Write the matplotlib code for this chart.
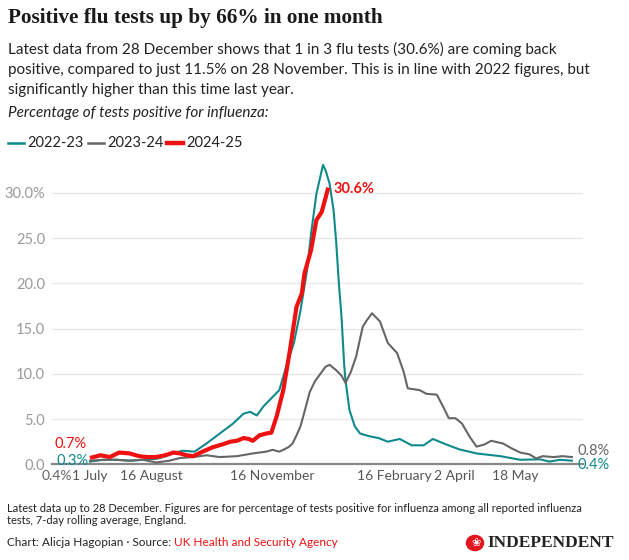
import matplotlib
matplotlib.use("Agg")
import matplotlib.pyplot as plt
from matplotlib.lines import Line2D
from matplotlib.patches import Circle

# days since 1 July for each season
days_2022 = [0, 10, 20, 30, 40, 50, 55, 62, 70, 79, 88, 98, 108, 116, 121, 126, 131, 137, 143,
             149, 154, 159, 164, 167, 171, 176, 178, 181, 184, 186, 188, 190, 192, 193, 196, 200,
             204, 211, 218, 225, 234, 243, 252, 259, 269, 279, 292, 310, 325, 340, 347, 355, 364]
flu_2022 = [0.3, 0.5, 0.5, 0.4, 0.5, 0.6, 0.8, 1.2, 1.5, 1.4, 2.3, 3.4, 4.5, 5.6, 5.8, 5.4, 6.4, 7.3, 8.2,
            11.2, 13.4, 17.0, 21.5, 25.5, 29.9, 33.1, 32.5, 31.0, 28.1, 24.5, 20.0, 16.3, 11.0, 9.3, 6.0, 4.2,
            3.4, 3.1, 2.9, 2.5, 2.8, 2.1, 2.1, 2.8, 2.2, 1.65, 1.2, 0.9, 0.5, 0.55, 0.3, 0.5, 0.4]

days_2023 = [0, 10, 20, 30, 40, 50, 60, 68, 78, 88, 98, 111, 123, 133, 138, 143, 146, 150, 153, 156,
             159, 162, 166, 170, 174, 178, 181, 186, 190, 193, 197, 201, 206, 209, 213, 219, 225, 232,
             237, 240, 249, 254, 262, 267, 271, 276, 281, 287, 292, 298, 303, 312, 318, 325, 332, 337,
             342, 350, 357, 364]
flu_2023 = [0.4, 0.5, 0.5, 0.4, 0.5, 0.2, 0.4, 0.7, 0.8, 1.0, 0.8, 0.9, 1.2, 1.4, 1.6, 1.4, 1.6, 1.9, 2.3, 3.2,
            4.2, 5.8, 8.0, 9.2, 10.0, 10.8, 11.0, 10.4, 9.8, 9.0, 10.2, 11.9, 15.2, 15.9, 16.7, 15.8, 13.4, 12.3,
            10.2, 8.4, 8.2, 7.8, 7.7, 6.3, 5.1, 5.1, 4.5, 3.0, 1.95, 2.2, 2.6, 2.3, 1.8, 1.3, 1.1, 0.65,
            0.9, 0.8, 0.9, 0.8]

days_2024 = [0, 8, 15, 22, 30, 37, 43, 50, 57, 63, 68, 73, 78, 85, 93, 100, 106, 111, 116, 120, 123,
             128, 133, 137, 141, 146, 151, 156, 160, 162, 167, 171, 175, 178, 180]
flu_2024 = [0.7, 1.0, 0.8, 1.3, 1.2, 0.9, 0.8, 0.8, 1.0, 1.3, 1.2, 1.0, 0.9, 1.4, 1.9, 2.2, 2.5, 2.6, 2.9, 2.8, 2.6,
            3.2, 3.4, 3.5, 5.3, 8.2, 12.6, 17.4, 18.9, 21.1, 23.7, 27.0, 27.9, 29.5, 30.6]

tick_days = [0, 46, 138, 230, 275, 321]
tick_labels = ["1 July", "16 August", "16 November", "16 February", "2 April", "18 May"]
y_ticks = [0, 5, 10, 15, 20, 25, 30]
y_labels = ["0.0", "5.0", "10.0", "15.0", "20.0", "25.0", "30.0%"]

TEAL = "#0f8a8c"
GREY = "#666666"
RED = "#ee1111"
SANS = "Lato"

fig = plt.figure(figsize=(6.29, 5.6), dpi=100)
W, H = 629, 560

def fx(px):
    return px / W

def fy(py):
    return 1 - py / H

ax = fig.add_axes([fx(52), fy(464.3), (583 - 52) / W, (464.3 - 155) / H])
ax.set_xlim(-28.7, 372.4)
ax.set_ylim(0, 34.2)

ax.plot(days_2022, flu_2022, color=TEAL, lw=1.5, zorder=3, clip_on=False)
ax.plot(days_2023, flu_2023, color=GREY, lw=1.5, zorder=3, clip_on=False)
ax.plot(days_2024, flu_2024, color=RED, lw=3.0, zorder=4, clip_on=False, solid_capstyle="butt")

for s in ["top", "right", "left"]:
    ax.spines[s].set_visible(False)
ax.spines["bottom"].set_color("#888888")
ax.spines["bottom"].set_linewidth(1.6)
ax.spines["bottom"].set_zorder(2)

ax.set_yticks(y_ticks)
ax.set_yticklabels(y_labels, fontsize=10.5, color="#999999", family=SANS)
ax.tick_params(axis="y", length=0, pad=5)
ax.grid(axis="y", color="#e8e8e8", lw=1)
ax.set_axisbelow(True)

ax.set_xticks(tick_days)
ax.set_xticklabels(tick_labels, fontsize=10, color="#555555", family=SANS)
ax.tick_params(axis="x", length=0, pad=4)

# end labels
lab = dict(fontsize=10.5, family=SANS, textcoords="offset pixels", va="center")
ax.annotate("0.7%", (days_2024[0], flu_2024[0]), xytext=(-3, 14), ha="right", color=RED, **lab)
ax.annotate("0.3%", (days_2022[0], flu_2022[0]), xytext=(-1, 1), ha="right", color=TEAL, **lab)
ax.annotate("0.4%", (days_2023[0], flu_2023[0]), xytext=(-18, -15), ha="right", color=GREY,
            fontsize=10, family=SANS, textcoords="offset pixels", va="center")
ax.annotate("30.6%", (days_2024[-1], flu_2024[-1]), xytext=(5, -1), ha="left", color=RED,
            fontweight="bold", **lab)
ax.annotate("0.8%", (days_2023[-1], flu_2023[-1]), xytext=(6, 6), ha="left", color=GREY, **lab)
ax.annotate("0.4%", (days_2022[-1], flu_2022[-1]), xytext=(6, -4), ha="left", color=TEAL, **lab)

# title block
fig.text(fx(8), fy(18), "Positive flu tests up by 66% in one month", fontsize=15.3, fontweight="bold",
         family="Liberation Serif", color="#1a1a1a", va="center")
sub = ("Latest data from 28 December shows that 1 in 3 flu tests (30.6%) are coming back\n"
       "positive, compared to just 11.5% on 28 November. This is in line with 2022 figures, but\n"
       "significantly higher than this time last year.")
fig.text(fx(8), fy(42), sub, fontsize=11, family=SANS, color="#222222", va="top", linespacing=1.55)
fig.text(fx(8), fy(113), "Percentage of tests positive for influenza:", fontsize=11, family=SANS,
         style="italic", color="#222222", va="center")

# legend
legend_items = [("2022-23", TEAL, 1.8, 8), ("2023-24", GREY, 1.8, 88), ("2024-25", RED, 3.2, 167)]
for name, col, lw, x0 in legend_items:
    fig.add_artist(Line2D([fx(x0), fx(x0 + 16)], [fy(143), fy(143)], color=col, lw=lw))
    fig.text(fx(x0 + 19), fy(143), name, fontsize=10.5, family=SANS, color="#222222", va="center")

# footer
fig.text(fx(7), fy(503), "Latest data up to 28 December. Figures are for percentage of tests positive for influenza among all reported influenza\n"
         "tests, 7-day rolling average, England.", fontsize=8, family=SANS, color="#222222",
         va="top", linespacing=1.15)
t = fig.text(fx(7), fy(543), "Chart: Alicja Hagopian \u00b7 Source: ", fontsize=8.5, family=SANS,
             color="#222222", va="center")
fig.canvas.draw()
bb = t.get_window_extent()
fig.text(bb.x1 / W, fy(543), "UK Health and Security Agency", fontsize=8.5, family=SANS,
         color=RED, va="center")

fig.add_artist(Circle((fx(475), fy(543)), 8.5 / W, transform=fig.transFigure, color="#e3141c"))
fig.text(fx(476), fy(543), "\u2740", fontsize=8, color="white", ha="center", va="center",
         family="DejaVu Sans")
fig.text(fx(487), fy(543), "INDEPENDENT", fontsize=12.5, family="Liberation Serif", fontweight="bold",
         color="#222222", va="center")

fig.savefig("out.png", dpi=100)
